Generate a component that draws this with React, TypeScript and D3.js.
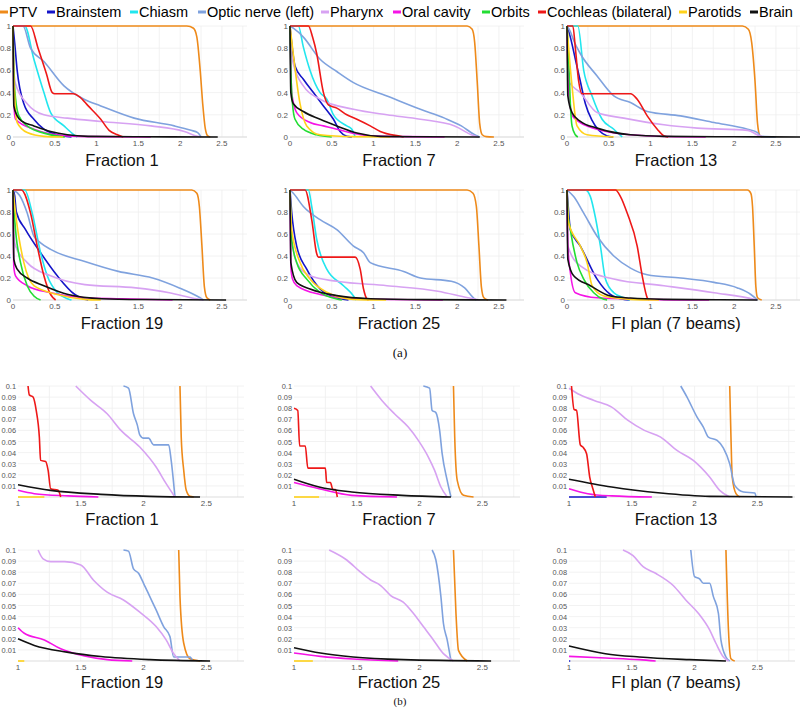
import React from 'react';
import * as d3 from 'd3';

type Pt = [number, number];

const STRUCTURES = ['PTV', 'Brainstem', 'Chiasm', 'Optic nerve (left)', 'Pharynx', 'Oral cavity', 'Orbits', 'Cochleas (bilateral)', 'Parotids', 'Brain'];
const COLORS = ['#ee8a1a', '#1414c8', '#22e6ee', '#7fa2de', '#d7a2f2', '#f514e6', '#22dd33', '#ee1818', '#ffd21a', '#111111'];
const PANEL_TITLES = ['Fraction 1', 'Fraction 7', 'Fraction 13', 'Fraction 19', 'Fraction 25', 'FI plan (7 beams)'];
const LEGEND_X = [0, 47, 130, 198, 321, 393, 482, 538, 679, 750];

const X_TICKS_A = [0, 0.5, 1, 1.5, 2, 2.5];
const X_GRID_A = [0.25, 0.5, 0.75, 1, 1.25, 1.5, 1.75, 2, 2.25, 2.5, 2.75];
const Y_TICKS_A = [0, 0.2, 0.4, 0.6, 0.8, 1];
const X_TICKS_B = [1, 1.5, 2, 2.5];
const X_GRID_B = [1.25, 1.5, 1.75, 2, 2.25, 2.5, 2.75];
const Y_TICKS_B = [0.01, 0.02, 0.03, 0.04, 0.05, 0.06, 0.07, 0.08, 0.09, 0.1];

// ---- (a) full DVHs: one entry per panel (F1, F7, F13, F19, F25, FI) ----
const PTV_A: Pt[][] = [
  [[0, 1], [2.08, 1], [2.16, 0.98], [2.2, 0.9], [2.24, 0.6], [2.27, 0.3], [2.3, 0.08], [2.33, 0.01], [2.36, 0]],
  [[0, 1], [2.12, 1], [2.18, 0.97], [2.21, 0.85], [2.24, 0.5], [2.27, 0.12], [2.3, 0.02], [2.35, 0.003], [2.44, 0]],
  [[0, 1], [2.1, 1], [2.17, 0.97], [2.21, 0.85], [2.25, 0.5], [2.28, 0.12], [2.31, 0.01], [2.34, 0]],
  [[0, 1], [2.14, 1], [2.2, 0.97], [2.23, 0.85], [2.26, 0.5], [2.29, 0.12], [2.32, 0.02], [2.36, 0]],
  [[0, 1], [2.12, 1], [2.19, 0.97], [2.23, 0.85], [2.26, 0.5], [2.29, 0.12], [2.32, 0.02], [2.37, 0]],
  [[0, 1], [2.16, 1], [2.2, 0.97], [2.22, 0.85], [2.24, 0.5], [2.26, 0.12], [2.28, 0.02], [2.33, 0]],
];
const BRAINSTEM_A: Pt[][] = [
  [[0, 1], [0.02, 0.85], [0.05, 0.6], [0.13, 0.3], [0.25, 0.16], [0.37, 0.07], [0.53, 0.02], [0.7, 0]],
  [[0, 1], [0.02, 0.85], [0.06, 0.64], [0.16, 0.52], [0.28, 0.4], [0.4, 0.28], [0.52, 0.16], [0.6, 0.05], [0.68, 0.006], [0.74, 0]],
  [[0, 1], [0.04, 0.9], [0.1, 0.7], [0.16, 0.5], [0.22, 0.3], [0.3, 0.15], [0.38, 0.06], [0.48, 0.01], [0.55, 0]],
  [[0, 1], [0.02, 0.95], [0.04, 0.8], [0.15, 0.64], [0.33, 0.43], [0.53, 0.22], [0.74, 0.05], [0.86, 0.006], [0.9, 0]],
  [[0, 1], [0.02, 0.8], [0.08, 0.49], [0.2, 0.28], [0.36, 0.1], [0.56, 0.02], [0.7, 0]],
  [[0, 1], [0.02, 0.8], [0.04, 0.64], [0.16, 0.49], [0.36, 0.19], [0.52, 0.05], [0.68, 0.006], [0.75, 0]],
];
const CHIASM_A: Pt[][] = [
  [[0, 1], [0.14, 1], [0.25, 0.7], [0.37, 0.4], [0.45, 0.22], [0.61, 0.1], [0.73, 0.02], [0.77, 0]],
  [[0, 1], [0.1, 1], [0.16, 0.81], [0.24, 0.6], [0.36, 0.4], [0.44, 0.34], [0.52, 0.2], [0.68, 0.1], [0.74, 0.07], [0.78, 0]],
  [[0, 1], [0.13, 1], [0.2, 0.6], [0.3, 0.37], [0.42, 0.16], [0.56, 0.07], [0.66, 0]],
  [[0, 1], [0.14, 1], [0.23, 0.79], [0.33, 0.43], [0.41, 0.22], [0.53, 0.066], [0.66, 0.01], [0.7, 0]],
  [[0, 1], [0.22, 1], [0.26, 0.85], [0.32, 0.55], [0.44, 0.28], [0.64, 0.13], [0.76, 0.036], [0.79, 0]],
  [[0, 1], [0.22, 1], [0.28, 0.94], [0.34, 0.75], [0.4, 0.49], [0.46, 0.19], [0.56, 0.066], [0.68, 0.02], [0.75, 0]],
];
const OPTIC_A: Pt[][] = [
  [[0, 1], [0.12, 1], [0.21, 0.8], [0.37, 0.68], [0.61, 0.46], [0.85, 0.34], [1.05, 0.28], [1.45, 0.17], [1.93, 0.1], [2.13, 0.06], [2.21, 0.04], [2.25, 0]],
  [[0, 1], [0.04, 0.98], [0.16, 0.9], [0.36, 0.7], [0.56, 0.59], [0.76, 0.49], [1.16, 0.37], [1.56, 0.25], [1.85, 0.17], [2.05, 0.1], [2.21, 0.02], [2.27, 0]],
  [[0, 1], [0.04, 0.95], [0.08, 0.87], [0.16, 0.75], [0.36, 0.55], [0.56, 0.37], [0.76, 0.31], [0.96, 0.23], [1.36, 0.19], [1.76, 0.13], [2.16, 0.07], [2.28, 0.04], [2.32, 0.006], [2.5, 0]],
  [[0, 1], [0.08, 0.95], [0.17, 0.79], [0.25, 0.58], [0.33, 0.52], [0.45, 0.46], [0.86, 0.35], [1.26, 0.26], [1.67, 0.2], [1.99, 0.11], [2.2, 0.036], [2.28, 0]],
  [[0, 1], [0.04, 0.97], [0.16, 0.85], [0.36, 0.73], [0.56, 0.64], [0.76, 0.49], [0.88, 0.43], [0.96, 0.34], [1.36, 0.26], [1.56, 0.2], [1.93, 0.17], [2.09, 0.11], [2.21, 0.01], [2.23, 0]],
  [[0, 1], [0.08, 0.94], [0.2, 0.79], [0.36, 0.58], [0.56, 0.4], [0.76, 0.29], [0.96, 0.23], [1.36, 0.2], [1.76, 0.16], [2.04, 0.11], [2.2, 0.05], [2.28, 0]],
];
const PHARYNX_A: Pt[][] = [
  [[0, 1], [0.01, 0.6], [0.03, 0.48], [0.17, 0.3], [0.37, 0.2], [0.65, 0.17], [1.05, 0.14], [1.65, 0.1], [2.05, 0.05], [2.21, 0.006], [2.25, 0]],
  [[0, 1], [0.01, 0.8], [0.04, 0.66], [0.16, 0.46], [0.36, 0.34], [0.76, 0.25], [1.16, 0.2], [1.56, 0.16], [1.97, 0.1], [2.17, 0.02], [2.25, 0]],
  [[0, 1], [0.01, 0.6], [0.02, 0.5], [0.16, 0.4], [0.36, 0.22], [0.68, 0.17], [1.16, 0.11], [1.56, 0.08], [2.16, 0.06], [2.32, 0.006], [2.36, 0]],
  [[0, 1], [0.01, 0.6], [0.03, 0.49], [0.17, 0.34], [0.45, 0.22], [0.86, 0.14], [1.47, 0.11], [1.87, 0.066], [2.2, 0.01], [2.28, 0]],
  [[0, 1], [0.01, 0.64], [0.08, 0.34], [0.24, 0.22], [0.56, 0.17], [1.16, 0.13], [1.77, 0.08], [2.13, 0.02], [2.27, 0]],
  [[0, 1], [0.01, 0.49], [0.16, 0.31], [0.56, 0.19], [1.16, 0.13], [1.76, 0.066], [2.24, 0.006], [2.27, 0]],
];
const ORAL_A: Pt[][] = [
  [[0, 1], [0.01, 0.3], [0.03, 0.16], [0.25, 0.07], [0.65, 0.01], [1.0, 0.003], [1.65, 0]],
  [[0, 1], [0.02, 0.4], [0.08, 0.22], [0.24, 0.13], [0.4, 0.1], [0.56, 0.07], [0.96, 0.01], [1.4, 0.003], [1.85, 0]],
  [[0, 1], [0.02, 0.4], [0.06, 0.2], [0.12, 0.15], [0.36, 0.07], [0.76, 0.02], [1.2, 0.004], [1.66, 0]],
  [[0, 1], [0.01, 0.3], [0.03, 0.22], [0.17, 0.13], [0.45, 0.066], [0.86, 0.02], [1.3, 0.011], [1.91, 0]],
  [[0, 1], [0.01, 0.3], [0.03, 0.19], [0.08, 0.13], [0.36, 0.05], [0.76, 0.012], [1.2, 0.005], [1.83, 0]],
  [[0, 1], [0.01, 0.5], [0.04, 0.25], [0.1, 0.066], [0.36, 0.02], [0.96, 0.006], [1.7, 0]],
];
const ORBITS_A: Pt[][] = [
  [[0, 1], [0.01, 0.6], [0.03, 0.35], [0.07, 0.19], [0.17, 0.1], [0.37, 0.035], [0.57, 0.005], [0.62, 0]],
  [[0, 1], [0.01, 0.6], [0.03, 0.3], [0.06, 0.16], [0.16, 0.07], [0.32, 0.02], [0.5, 0]],
  [[0, 1], [0.02, 0.7], [0.04, 0.3], [0.06, 0.1], [0.1, 0.02], [0.13, 0]],
  [[0, 1], [0.01, 0.85], [0.03, 0.64], [0.09, 0.34], [0.17, 0.13], [0.25, 0.036], [0.33, 0]],
  [[0, 1], [0.01, 0.7], [0.02, 0.55], [0.08, 0.34], [0.2, 0.19], [0.36, 0.07], [0.56, 0.01], [0.62, 0]],
  [[0, 1], [0.01, 0.8], [0.04, 0.64], [0.12, 0.34], [0.2, 0.19], [0.32, 0.066], [0.44, 0.006], [0.48, 0]],
];
const COCHLEA_A: Pt[][] = [
  [[0, 1], [0.21, 1], [0.3, 0.8], [0.4, 0.57], [0.47, 0.4], [0.5, 0.39], [0.72, 0.39], [0.8, 0.36], [0.9, 0.28], [1.05, 0.16], [1.15, 0.06], [1.25, 0.02], [1.32, 0]],
  [[0, 1], [0.22, 1], [0.27, 0.9], [0.32, 0.75], [0.4, 0.4], [0.46, 0.29], [0.56, 0.26], [0.68, 0.2], [0.8, 0.16], [0.96, 0.1], [1.08, 0.05], [1.32, 0.006], [1.36, 0]],
  [[0, 1], [0.07, 1], [0.1, 0.8], [0.14, 0.5], [0.18, 0.39], [0.76, 0.39], [0.84, 0.34], [0.96, 0.19], [1.08, 0.07], [1.16, 0.01], [1.21, 0]],
  [[0, 1], [0.1, 1], [0.21, 0.79], [0.29, 0.49], [0.37, 0.22], [0.45, 0.05], [0.51, 0]],
  [[0, 1], [0.18, 1], [0.26, 0.73], [0.32, 0.42], [0.34, 0.39], [0.78, 0.39], [0.84, 0.28], [0.88, 0.1], [0.92, 0.01], [0.94, 0]],
  [[0, 1], [0.58, 1], [0.64, 0.94], [0.72, 0.79], [0.84, 0.49], [0.9, 0.22], [0.96, 0.02], [0.98, 0]],
];
const PAROTIDS_A: Pt[][] = [
  [[0, 1], [0.01, 0.55], [0.05, 0.13], [0.17, 0.04], [0.37, 0.006], [0.6, 0]],
  [[0, 1], [0.02, 0.87], [0.12, 0.3], [0.2, 0.1], [0.36, 0.02], [0.76, 0.003], [1.2, 0]],
  [[0, 1], [0.02, 0.8], [0.06, 0.46], [0.12, 0.1], [0.24, 0.02], [0.56, 0]],
  [[0, 1], [0.03, 0.79], [0.13, 0.34], [0.25, 0.13], [0.53, 0.05], [0.86, 0.006], [1.05, 0]],
  [[0, 1], [0.02, 0.64], [0.12, 0.34], [0.24, 0.19], [0.44, 0.07], [0.76, 0.006], [1.15, 0]],
  [[0, 1], [0.02, 0.7], [0.16, 0.49], [0.24, 0.34], [0.3, 0.13], [0.44, 0.036], [0.76, 0.006], [1.1, 0]],
];
const BRAIN_A: Pt[][] = [
  [[0, 1], [0.005, 0.5], [0.01, 0.28], [0.05, 0.19], [0.11, 0.14], [0.25, 0.1], [0.45, 0.05], [0.65, 0.02], [0.9, 0.006], [1.5, 0.002], [2.45, 0]],
  [[0, 1], [0.005, 0.6], [0.01, 0.4], [0.04, 0.3], [0.16, 0.23], [0.36, 0.16], [0.56, 0.1], [0.8, 0.036], [1.08, 0.006], [1.6, 0.002], [2.27, 0]],
  [[0, 1], [0.005, 0.6], [0.01, 0.37], [0.06, 0.22], [0.16, 0.14], [0.36, 0.08], [0.76, 0.02], [1.16, 0.006], [2.0, 0.002], [2.8, 0]],
  [[0, 1], [0.005, 0.6], [0.01, 0.37], [0.05, 0.28], [0.17, 0.2], [0.37, 0.13], [0.66, 0.05], [1.06, 0.012], [1.6, 0.004], [2.55, 0]],
  [[0, 1], [0.005, 0.6], [0.01, 0.34], [0.08, 0.16], [0.24, 0.1], [0.56, 0.04], [0.96, 0.012], [1.6, 0.003], [2.59, 0]],
  [[0, 1], [0.005, 0.6], [0.01, 0.37], [0.08, 0.22], [0.28, 0.13], [0.52, 0.036], [0.76, 0.018], [1.16, 0.006], [1.8, 0.002], [2.28, 0]],
];

// ---- (b) zoomed tails (dose >= 1, volume <= 0.1) ----
const PTV_B: Pt[][] = [
  [[2.29, 0.1], [2.3, 0.054], [2.32, 0.024], [2.34, 0.006], [2.37, 0.0006], [2.4, 0]],
  [[2.27, 0.1], [2.28, 0.054], [2.3, 0.015], [2.35, 0.0015], [2.43, 0]],
  [[2.28, 0.1], [2.29, 0.054], [2.3, 0.018], [2.33, 0.003], [2.36, 0]],
  [[2.28, 0.1], [2.29, 0.058], [2.32, 0.016], [2.37, 0.002], [2.45, 0]],
  [[2.27, 0.1], [2.29, 0.043], [2.31, 0.0096], [2.38, 0]],
  [[2.25, 0.1], [2.27, 0.028], [2.29, 0.002], [2.32, 0]],
];
const BRAINSTEM_B: Pt[][] = [[], [], [[1, 0], [1.3, 0]], [], [], [[1, 0], [1.01, 0]]];
const CHIASM_B: Pt[][] = [[], [], [], [], [], []];
const OPTIC_B: Pt[][] = [
  [[1.84, 0.1], [1.88, 0.098], [1.92, 0.075], [1.95, 0.065], [1.97, 0.056], [2.0, 0.053], [2.04, 0.053], [2.08, 0.047], [2.2, 0.047], [2.22, 0.033], [2.25, 0]],
  [[2.03, 0.1], [2.08, 0.098], [2.1, 0.078], [2.13, 0.076], [2.16, 0.06], [2.18, 0.039], [2.22, 0.015], [2.25, 0]],
  [[1.89, 0.1], [1.94, 0.09], [2.02, 0.072], [2.07, 0.063], [2.11, 0.054], [2.18, 0.051], [2.23, 0.044], [2.28, 0.03], [2.32, 0.0105], [2.39, 0.0045], [2.48, 0.0036], [2.49, 0]],
  [[1.84, 0.1], [1.88, 0.099], [1.92, 0.083], [1.96, 0.079], [2.0, 0.07], [2.05, 0.058], [2.1, 0.046], [2.16, 0.031], [2.21, 0.022], [2.24, 0.0036], [2.37, 0.0036], [2.39, 0]],
  [[2.1, 0.1], [2.13, 0.091], [2.17, 0.058], [2.19, 0.034], [2.22, 0.019], [2.25, 0]],
  [[1.97, 0.1], [2.0, 0.076], [2.04, 0.074], [2.07, 0.07], [2.12, 0.07], [2.15, 0.058], [2.19, 0.043], [2.21, 0.019], [2.25, 0.0036], [2.28, 0]],
];
const PHARYNX_B: Pt[][] = [
  [[1.46, 0.1], [1.58, 0.087], [1.71, 0.075], [1.82, 0.06], [1.97, 0.045], [2.1, 0.027], [2.18, 0.012], [2.25, 0]],
  [[1.61, 0.1], [1.7, 0.087], [1.8, 0.075], [1.91, 0.063], [1.99, 0.051], [2.07, 0.036], [2.12, 0.024], [2.17, 0.009], [2.22, 0]],
  [[1.0, 0.098], [1.07, 0.093], [1.2, 0.087], [1.34, 0.081], [1.47, 0.069], [1.6, 0.06], [1.73, 0.054], [1.86, 0.042], [1.99, 0.033], [2.12, 0.018], [2.2, 0.006], [2.28, 0]],
  [[1.16, 0.1], [1.2, 0.092], [1.26, 0.0895], [1.37, 0.0895], [1.5, 0.0865], [1.6, 0.073], [1.71, 0.062], [1.84, 0.055], [1.97, 0.044], [2.1, 0.031], [2.18, 0.019], [2.24, 0.0066], [2.29, 0]],
  [[1.28, 0.1], [1.42, 0.091], [1.53, 0.08], [1.61, 0.073], [1.69, 0.068], [1.77, 0.059], [1.87, 0.053], [1.95, 0.043], [2.03, 0.031], [2.11, 0.019], [2.19, 0.0066], [2.27, 0]],
  [[1.43, 0.1], [1.51, 0.095], [1.59, 0.085], [1.69, 0.079], [1.83, 0.068], [1.93, 0.055], [2.03, 0.043], [2.12, 0.028], [2.17, 0.016], [2.23, 0.0036], [2.27, 0]],
];
const ORAL_B: Pt[][] = [
  [[1, 0.006], [1.13, 0.003], [1.4, 0.001], [1.64, 0]],
  [[1, 0.013], [1.2, 0.0075], [1.46, 0.0015], [1.82, 0]],
  [[1, 0.0075], [1.15, 0.003], [1.34, 0.001], [1.66, 0]],
  [[1, 0.03], [1.05, 0.025], [1.21, 0.019], [1.34, 0.011], [1.53, 0.0045], [1.71, 0.0012], [1.91, 0]],
  [[1, 0.0072], [1.21, 0.0042], [1.47, 0.0018], [1.83, 0]],
  [[1, 0.0042], [1.29, 0.0027], [1.56, 0.0012], [1.69, 0]],
];
const ORBITS_B: Pt[][] = [[], [], [], [], [], []];
const COCHLEA_B: Pt[][] = [
  [[1.08, 0.1], [1.09, 0.092], [1.12, 0.09], [1.145, 0.078], [1.17, 0.054], [1.18, 0.033], [1.22, 0.032], [1.24, 0.024], [1.26, 0.0075], [1.32, 0.006], [1.34, 0]],
  [[1.0, 0.08], [1.03, 0.078], [1.045, 0.046], [1.09, 0.046], [1.11, 0.026], [1.25, 0.026], [1.26, 0.013], [1.29, 0.013], [1.31, 0.0066], [1.33, 0.0066], [1.345, 0]],
  [[1.02, 0.1], [1.04, 0.079], [1.06, 0.078], [1.09, 0.047], [1.11, 0.045], [1.14, 0.039], [1.165, 0.018], [1.19, 0.0075], [1.21, 0]],
  [], [], [],
];
const PAROTIDS_B: Pt[][] = [[[1, 0], [1.21, 0]], [[1, 0], [1.2, 0]], [], [[1, 0], [1.05, 0]], [[1, 0], [1.15, 0]], []];
const BRAIN_B: Pt[][] = [
  [[1, 0.011], [1.26, 0.006], [1.66, 0.0024], [2.05, 0.0006], [2.45, 0]],
  [[1, 0.016], [1.2, 0.009], [1.46, 0.0045], [1.86, 0.0015], [2.25, 0]],
  [[1, 0.016], [1.34, 0.009], [1.73, 0.0036], [2.12, 0.0006], [2.78, 0]],
  [[1, 0.02], [1.13, 0.014], [1.39, 0.008], [1.66, 0.004], [2.05, 0.0012], [2.53, 0]],
  [[1, 0.012], [1.21, 0.0072], [1.47, 0.0036], [1.87, 0.0012], [2.57, 0]],
  [[1, 0.0135], [1.29, 0.0066], [1.56, 0.0036], [1.96, 0.0012], [2.25, 0]],
];

const SERIES_A = [PTV_A, BRAINSTEM_A, CHIASM_A, OPTIC_A, PHARYNX_A, ORAL_A, ORBITS_A, COCHLEA_A, PAROTIDS_A, BRAIN_A];
const SERIES_B = [PTV_B, BRAINSTEM_B, CHIASM_B, OPTIC_B, PHARYNX_B, ORAL_B, ORBITS_B, COCHLEA_B, PAROTIDS_B, BRAIN_B];

const FONT = "'Liberation Sans', Arial, Helvetica, sans-serif";

type PanelProps = {
  id: string;
  x0: number; width: number; top: number; bottom: number;
  xDomain: [number, number]; yDomain: [number, number];
  xTicks: number[]; xGrid: number[]; yTicks: number[];
  series: Pt[][];
  title: string; titleX: number; titleY: number;
  tickFont: number;
};

function Panel(p: PanelProps) {
  const xs = d3.scaleLinear().domain(p.xDomain).range([p.x0, p.x0 + p.width]);
  const ys = d3.scaleLinear().domain(p.yDomain).range([p.bottom, p.top]);
  const line = d3.line<Pt>().x(d => xs(d[0])).y(d => ys(d[1])).curve(d3.curveMonotoneX);
  const clipId = `clip-${p.id}`;
  return (
    <g>
      <defs>
        <clipPath id={clipId}>
          <rect x={p.x0 - 2} y={p.top - 1} width={p.width + 4} height={p.bottom - p.top + 4} />
        </clipPath>
      </defs>
      {p.xGrid.map(v => (
        <line key={'gx' + v} x1={xs(v)} x2={xs(v)} y1={p.top} y2={p.bottom} stroke="#efefef" strokeWidth={0.8} />
      ))}
      {p.yTicks.map(v => (
        <line key={'gy' + v} x1={p.x0} x2={p.x0 + p.width} y1={ys(v)} y2={ys(v)} stroke="#efefef" strokeWidth={0.8} />
      ))}
      <line x1={p.x0} x2={p.x0 + p.width} y1={p.bottom} y2={p.bottom} stroke="#d4d4d4" strokeWidth={0.8} />
      {p.yTicks.map(v => (
        <text key={'ty' + v} x={p.x0 - 2} y={ys(v) + 3} fontSize={p.tickFont} fill="#555" textAnchor="end" fontFamily={FONT}>{String(v)}</text>
      ))}
      {p.xTicks.map(v => (
        <text key={'tx' + v} x={xs(v)} y={p.bottom + 9} fontSize={8} fill="#555" textAnchor="middle" fontFamily={FONT}>{String(v)}</text>
      ))}
      <g clipPath={`url(#${clipId})`}>
        {p.series.map((s, i) => s.length > 1 ? (
          <path key={'s' + i} d={line(s) || ''} fill="none" stroke={COLORS[i]} strokeWidth={1.6} strokeLinejoin="round" />
        ) : null)}
      </g>
      <text x={p.titleX} y={p.titleY} fontSize={16.5} fill="#111" textAnchor="middle" fontFamily={FONT}>{p.title}</text>
    </g>
  );
}

const COLS_A = [13, 290, 567];
const COLS_B = [18, 294, 569];
const TITLE_X = [122, 399, 676];
const ROWS_A = [{ top: 26, bottom: 137, title: 166 }, { top: 190, bottom: 300, title: 329 }];
const ROWS_B = [{ top: 386, bottom: 497, title: 525 }, { top: 550, bottom: 661, title: 688 }];

export default function App() {
  const panels: React.ReactNode[] = [];
  for (let k = 0; k < 6; k++) {
    const r = Math.floor(k / 3), c = k % 3;
    panels.push(
      <Panel key={'a' + k} id={'a' + k} x0={COLS_A[c]} width={234} top={ROWS_A[r].top} bottom={ROWS_A[r].bottom}
        xDomain={[0, 2.8]} yDomain={[0, 1]} xTicks={X_TICKS_A} xGrid={X_GRID_A} yTicks={Y_TICKS_A}
        series={SERIES_A.map(s => s[k])} title={PANEL_TITLES[k]} titleX={TITLE_X[c]} titleY={ROWS_A[r].title} tickFont={8} />
    );
    panels.push(
      <Panel key={'b' + k} id={'b' + k} x0={COLS_B[c]} width={226} top={ROWS_B[r].top} bottom={ROWS_B[r].bottom}
        xDomain={[1, 2.8]} yDomain={[0, 0.1]} xTicks={X_TICKS_B} xGrid={X_GRID_B} yTicks={Y_TICKS_B}
        series={SERIES_B.map(s => s[k])} title={PANEL_TITLES[k]} titleX={TITLE_X[c]} titleY={ROWS_B[r].title} tickFont={7.4} />
    );
  }
  return (
    <svg width={800} height={710} style={{ position: 'absolute', left: 0, top: 0, background: '#fff' }}>
      <rect x={0} y={0} width={800} height={710} fill="#fff" />
      {STRUCTURES.map((name, i) => (
        <g key={name}>
          <line x1={LEGEND_X[i]} x2={LEGEND_X[i] + 8} y1={12} y2={12} stroke={COLORS[i]} strokeWidth={3} />
          <text x={LEGEND_X[i] + 9} y={17} fontSize={14.5} fill="#000" fontFamily={FONT}>{name}</text>
        </g>
      ))}
      {panels}
      <text x={400} y={357} fontSize={13} fontFamily="'Liberation Serif', 'DejaVu Serif', serif" textAnchor="middle" fill="#111">(a)</text>
      <text x={400} y={705} fontSize={11} fontFamily="'Liberation Serif', 'DejaVu Serif', serif" textAnchor="middle" fill="#111">(b)</text>
    </svg>
  );
}
